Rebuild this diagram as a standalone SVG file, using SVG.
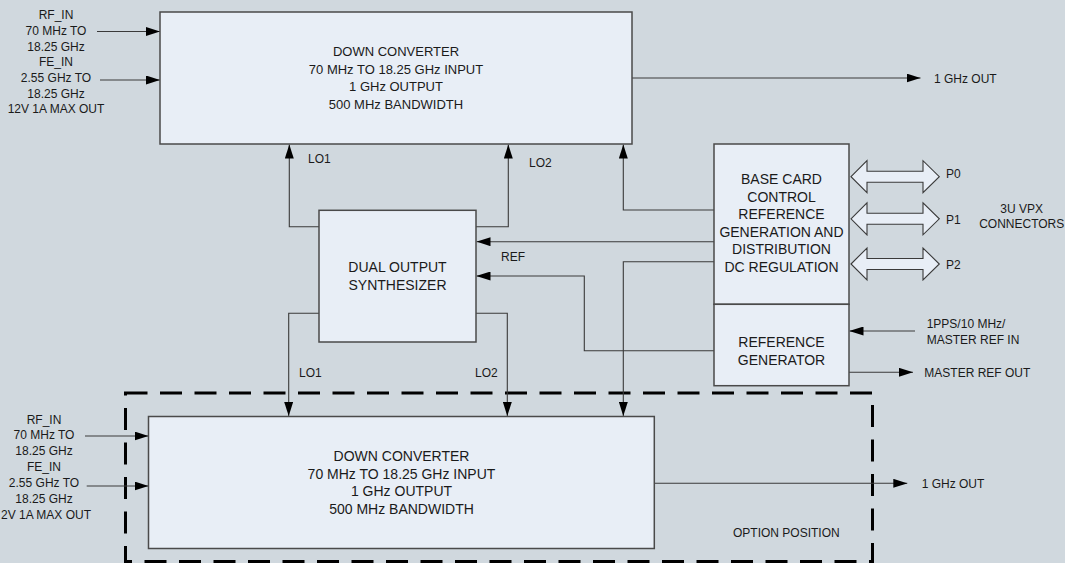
<svg xmlns="http://www.w3.org/2000/svg" width="1065" height="563" viewBox="0 0 1065 563">
<style>
.bg{fill:#d0d8de}
.box{fill:#e8eef6;stroke:#4a4a4a;stroke-width:1.5}
.t{font-family:"Liberation Sans",Arial,sans-serif;font-size:13px;fill:#1a1a1a;text-anchor:middle}
.t14{font-size:14px}
.l{font-family:"Liberation Sans",Arial,sans-serif;font-size:12px;fill:#1a1a1a}
.lm{text-anchor:middle}
.c{fill:none;stroke:#3a3a3a;stroke-width:1.1}
.dbl{fill:#e8eef6;stroke:#3a3a3a;stroke-width:1.1}
.dash{fill:none;stroke:#000;stroke-width:3;stroke-dasharray:22 12.5}
</style>
<defs>
<marker id="ah" markerWidth="14" markerHeight="9" refX="14" refY="4.5" orient="auto" markerUnits="userSpaceOnUse">
<path d="M0,0 L14,4.5 L0,9 z" fill="#000"/>
</marker>
</defs>
<rect class="bg" x="0" y="0" width="1065" height="563"/>

<g id="option-position">
<rect class="dash" x="125.5" y="393" width="747" height="168.5"/>
<text class="l" x="733" y="537">OPTION POSITION</text>
</g>

<g id="connectors">
<path class="c" d="M97,31.5 H160" marker-end="url(#ah)"/>
<path class="c" d="M100,80 H160" marker-end="url(#ah)"/>
<path class="c" d="M632,78 H920.5" marker-end="url(#ah)"/>
<path class="c" d="M319,226.7 H289.3 V144.5" marker-end="url(#ah)"/>
<path class="c" d="M476,226.7 H508.3 V144.5" marker-end="url(#ah)"/>
<path class="c" d="M714,210 H623.3 V144.5" marker-end="url(#ah)"/>
<path class="c" d="M714,241.7 H476.5" marker-end="url(#ah)"/>
<path class="c" d="M714,350.7 H584.3 V276 H476.5" marker-end="url(#ah)"/>
<path class="c" d="M714,261.7 H623.3 V416" marker-end="url(#ah)"/>
<path class="c" d="M319,313.3 H288.7 V416" marker-end="url(#ah)"/>
<path class="c" d="M476,313.3 H507.3 V416" marker-end="url(#ah)"/>
<path class="c" d="M915,331 H849.5" marker-end="url(#ah)"/>
<path class="c" d="M849,372.3 H913" marker-end="url(#ah)"/>
<path class="c" d="M85,436 H148.5" marker-end="url(#ah)"/>
<path class="c" d="M86.7,486 H148.5" marker-end="url(#ah)"/>
<path class="c" d="M654,483.3 H907.3" marker-end="url(#ah)"/>
<text class="l" x="308" y="163">LO1</text>
<text class="l" x="529" y="167">LO2</text>
<text class="l" x="501" y="261">REF</text>
<text class="l" x="299" y="377">LO1</text>
<text class="l" x="475" y="377">LO2</text>
</g>

<g id="top-inputs">
<text class="l lm" x="56" y="19.3">RF_IN</text>
<text class="l lm" x="56" y="35">70 MHz TO</text>
<text class="l lm" x="56" y="50.6">18.25 GHz</text>
<text class="l lm" x="56" y="66.3">FE_IN</text>
<text class="l lm" x="56" y="82">2.55 GHz TO</text>
<text class="l lm" x="56" y="97.6">18.25 GHz</text>
<text class="l lm" x="56" y="113.3">12V 1A MAX OUT</text>
</g>

<g id="bottom-inputs">
<text class="l lm" x="44" y="423.6">RF_IN</text>
<text class="l lm" x="44" y="439.4">70 MHz TO</text>
<text class="l lm" x="44" y="455.3">18.25 GHz</text>
<text class="l lm" x="44" y="471.1">FE_IN</text>
<text class="l lm" x="44" y="487">2.55 GHz TO</text>
<text class="l lm" x="44" y="502.8">18.25 GHz</text>
<text class="l" x="1" y="518.6">2V 1A MAX OUT</text>
</g>

<g id="down-converter-top">
<rect class="box" x="160" y="12" width="472" height="132"/>
<text class="t" x="396" y="55.7">DOWN CONVERTER</text>
<text class="t" x="396" y="73.5">70 MHz TO 18.25 GHz INPUT</text>
<text class="t" x="396" y="91.3">1 GHz OUTPUT</text>
<text class="t" x="396" y="109.1">500 MHz BANDWIDTH</text>
</g>
<text class="l" x="934" y="82.5">1 GHz OUT</text>

<g id="synthesizer">
<rect class="box" x="319" y="210.3" width="157" height="131.7"/>
<text class="t t14" x="397.5" y="271.6">DUAL OUTPUT</text>
<text class="t t14" x="397.5" y="289.8">SYNTHESIZER</text>
</g>

<g id="base-card">
<rect class="box" x="714" y="144" width="135" height="160.3"/>
<text class="t t14" x="781.5" y="184.3">BASE CARD</text>
<text class="t t14" x="781.5" y="201.7">CONTROL</text>
<text class="t t14" x="781.5" y="218.5">REFERENCE</text>
<text class="t t14" x="781.5" y="236.7">GENERATION AND</text>
<text class="t t14" x="781.5" y="254">DISTRIBUTION</text>
<text class="t t14" x="781.5" y="271.7">DC REGULATION</text>
</g>

<g id="reference-generator">
<rect class="box" x="714" y="304.3" width="135" height="81.4"/>
<text class="t t14" x="781.5" y="347.3">REFERENCE</text>
<text class="t t14" x="781.5" y="365">GENERATOR</text>
<text class="l" x="926.7" y="327.5">1PPS/10 MHz/</text>
<text class="l" x="926.7" y="344.3">MASTER REF IN</text>
<text class="l" x="924.3" y="376.5">MASTER REF OUT</text>
</g>

<g id="vpx-connectors">
<polygon class="dbl" points="851,176.7 867,160.7 867,171.2 923,171.2 923,160.7 939.3,176.7 923,192.7 923,182.2 867,182.2 867,192.7"/>
<polygon class="dbl" points="851,218.8 867,202.8 867,213.3 923,213.3 923,202.8 939.3,218.8 923,234.8 923,224.3 867,224.3 867,234.8"/>
<polygon class="dbl" points="851,264 867,248 867,258.5 923,258.5 923,248 939.3,264 923,280 923,269.5 867,269.5 867,280"/>
<text class="l" x="946" y="177.6">P0</text>
<text class="l" x="946" y="223.6">P1</text>
<text class="l" x="946" y="269.3">P2</text>
<text class="l lm" x="1021.7" y="212.6">3U VPX</text>
<text class="l lm" x="1021.7" y="227.6">CONNECTORS</text>
</g>

<g id="down-converter-bottom">
<rect class="box" x="148.5" y="416.5" width="505.8" height="132"/>
<text class="t t14" x="401.5" y="461">DOWN CONVERTER</text>
<text class="t t14" x="401.5" y="478.8">70 MHz TO 18.25 GHz INPUT</text>
<text class="t t14" x="401.5" y="495.6">1 GHz OUTPUT</text>
<text class="t t14" x="401.5" y="513.8">500 MHz BANDWIDTH</text>
</g>
<text class="l" x="921.7" y="487.6">1 GHz OUT</text>
</svg>
